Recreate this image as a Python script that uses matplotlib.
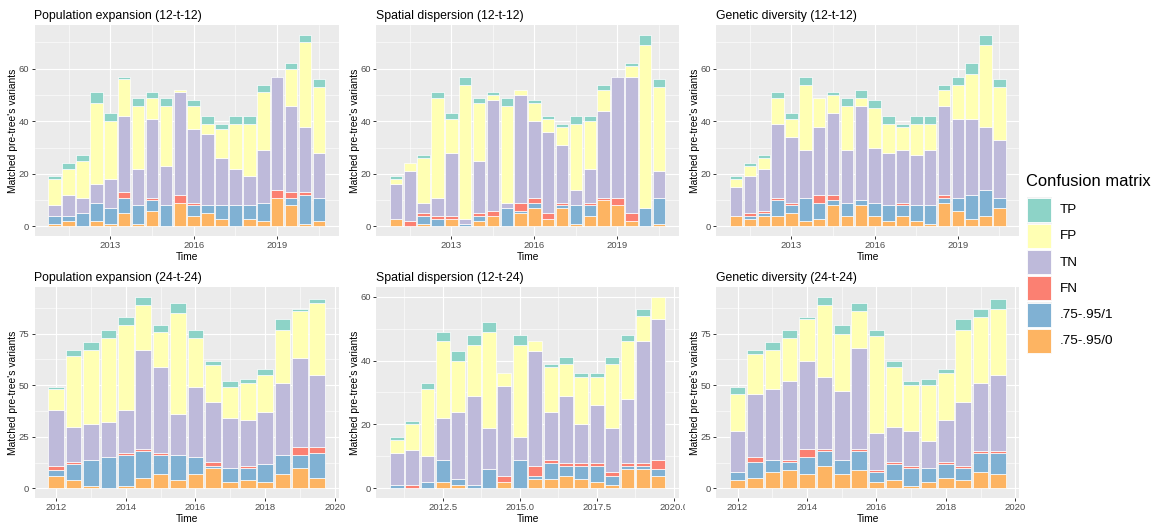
import matplotlib
matplotlib.use("Agg")
import matplotlib.pyplot as plt
from matplotlib.patches import Rectangle
from matplotlib.transforms import Bbox, TransformedBbox
import numpy as np

plt.rcParams['font.family'] = ['Liberation Sans', 'DejaVu Sans']

W, H = 1161, 527

categories = ["TP", "FP", "TN", "FN", ".75-.95/1", ".75-.95/0"]
colors = ["#8DD3C7", "#FFFFB3", "#BEBADA", "#FB8072", "#80B1D3", "#FDB462"]

# half-year time bins (decimal years)
dates_12 = [2011.0, 2011.5, 2012.0, 2012.5, 2013.0, 2013.5, 2014.0, 2014.5, 2015.0, 2015.5,
            2016.0, 2016.5, 2017.0, 2017.5, 2018.0, 2018.5, 2019.0, 2019.5, 2020.0, 2020.5]
dates_24 = [2012.0, 2012.5, 2013.0, 2013.5, 2014.0, 2014.5, 2015.0, 2015.5,
            2016.0, 2016.5, 2017.0, 2017.5, 2018.0, 2018.5, 2019.0, 2019.5]
dates_sd24 = [2011.0, 2011.5, 2012.0, 2012.5, 2013.0, 2013.5, 2014.0, 2014.5, 2015.0,
              2015.5, 2016.0, 2016.5, 2017.0, 2017.5, 2018.0, 2018.5, 2019.0, 2019.5]

# Population expansion (12-t-12)
pe12_o = [1, 2, 0, 2, 1, 5, 1, 6, 0, 9, 4, 5, 3, 0, 3, 2, 11, 8, 1, 2]
pe12_b = [3, 2, 5, 7, 6, 6, 7, 4, 8, 0, 4, 3, 5, 8, 5, 7, 0, 3, 11, 9]
pe12_fn = [0, 0, 0, 0, 0, 2, 0, 1, 0, 3, 1, 0, 0, 0, 0, 0, 3, 2, 1, 0]
pe12_tn = [4, 8, 6, 7, 11, 29, 14, 30, 15, 39, 28, 27, 18, 14, 11, 20, 43, 33, 25, 17]
pe12_fp = [10, 10, 14, 31, 22, 14, 24, 8, 23, 1, 9, 4, 11, 17, 20, 22, 0, 14, 32, 25]
pe12_tp = [1, 2, 2, 4, 3, 1, 3, 2, 3, 0, 2, 3, 2, 3, 3, 3, 0, 2, 3, 3]

# Spatial dispersion (12-t-12)
sd12_o = [3, 0, 1, 0, 3, 0, 2, 4, 0, 5, 7, 3, 7, 1, 4, 10, 8, 2, 0, 1]
sd12_b = [0, 0, 3, 3, 0, 1, 2, 0, 7, 1, 2, 0, 1, 7, 4, 0, 0, 0, 7, 10]
sd12_fn = [0, 2, 1, 1, 1, 0, 1, 2, 0, 3, 2, 2, 1, 0, 1, 1, 3, 3, 0, 0]
sd12_tn = [13, 19, 4, 7, 24, 2, 20, 42, 2, 41, 29, 31, 22, 6, 13, 33, 46, 52, 0, 10]
sd12_fp = [2, 3, 17, 38, 13, 51, 22, 2, 37, 2, 7, 5, 7, 25, 18, 8, 0, 4, 62, 32]
sd12_tp = [1, 0, 1, 2, 2, 3, 2, 1, 3, 0, 1, 1, 1, 3, 2, 2, 0, 1, 4, 3]

# Genetic diversity (12-t-12)
gd12_o = [4, 3, 4, 4, 5, 2, 3, 8, 4, 8, 4, 2, 4, 2, 1, 9, 6, 3, 4, 7]
gd12_b = [0, 1, 1, 6, 3, 9, 6, 2, 5, 2, 5, 6, 4, 6, 7, 2, 5, 9, 10, 4]
gd12_fn = [0, 1, 1, 1, 1, 0, 3, 2, 0, 0, 0, 0, 1, 0, 0, 1, 0, 0, 0, 0]
gd12_tn = [11, 14, 16, 28, 25, 18, 26, 31, 20, 36, 21, 20, 20, 19, 21, 34, 30, 29, 24, 22]
gd12_fp = [3, 4, 4, 10, 7, 25, 11, 7, 17, 3, 15, 11, 9, 12, 10, 6, 13, 17, 31, 20]
gd12_tp = [1, 1, 1, 2, 2, 3, 0, 1, 3, 3, 3, 3, 1, 3, 3, 2, 3, 4, 4, 3]

# Population expansion (24-t-24)
pe24_o = [6, 4, 1, 0, 1, 5, 7, 4, 7, 10, 3, 4, 3, 7, 10, 5]
pe24_b = [3, 8, 13, 15, 15, 13, 9, 12, 8, 1, 7, 6, 9, 9, 6, 12]
pe24_fn = [2, 1, 0, 0, 1, 1, 1, 0, 0, 2, 0, 1, 0, 0, 4, 3]
pe24_tn = [27, 17, 17, 17, 21, 48, 42, 20, 34, 29, 24, 22, 25, 35, 43, 35]
pe24_fp = [10, 34, 36, 41, 41, 22, 17, 49, 24, 18, 15, 18, 18, 26, 23, 35]
pe24_tp = [1, 3, 4, 4, 4, 4, 3, 5, 4, 2, 3, 2, 3, 5, 1, 2]

# Spatial dispersion (12-t-24)
sd24_o = [0, 0, 0, 2, 1, 0, 0, 2, 0, 3, 3, 4, 3, 2, 1, 6, 6, 4]
sd24_b = [1, 0, 2, 7, 2, 1, 6, 0, 9, 1, 5, 3, 4, 5, 3, 1, 1, 2]
sd24_fn = [0, 1, 0, 0, 0, 0, 0, 2, 0, 3, 1, 1, 1, 1, 1, 1, 1, 3]
sd24_tn = [10, 11, 8, 13, 21, 28, 13, 28, 7, 36, 15, 21, 12, 18, 14, 20, 38, 44]
sd24_fp = [4, 8, 21, 24, 16, 16, 30, 4, 29, 3, 14, 10, 15, 9, 20, 18, 8, 7]
sd24_tp = [1, 1, 2, 3, 3, 3, 3, 0, 3, 0, 1, 2, 1, 1, 2, 2, 2, 0]

# Genetic diversity (24-t-24)
gd24_o = [4, 5, 8, 9, 7, 11, 7, 9, 3, 4, 1, 3, 5, 4, 8, 7]
gd24_b = [4, 8, 6, 4, 8, 7, 7, 9, 5, 8, 9, 7, 7, 6, 9, 10]
gd24_fn = [0, 2, 0, 1, 4, 1, 0, 1, 1, 1, 1, 0, 1, 1, 1, 1]
gd24_tn = [20, 31, 34, 38, 43, 35, 33, 49, 18, 17, 17, 13, 20, 31, 33, 37]
gd24_fp = [18, 19, 19, 21, 20, 35, 28, 18, 47, 29, 22, 27, 23, 35, 32, 32]
gd24_tp = [3, 2, 4, 4, 1, 4, 4, 4, 3, 3, 2, 3, 2, 5, 4, 5]

fig = plt.figure(figsize=(W / 100, H / 100), dpi=100)


def px_axes(x0, y0, x1, y1):
    return fig.add_axes([x0 / W, 1 - y1 / H, (x1 - x0) / W, (y1 - y0) / H])


def panel(box, title, dates, layers, xmaj, xlabels, xmin, ymaj, ymin):
    ax = px_axes(*box)
    ax.set_facecolor('#EBEBEB')
    dates = np.asarray(dates)
    bottom = np.zeros(len(dates))
    # layers come bottom-up: .75-.95/0, .75-.95/1, FN, TN, FP, TP
    for vals, col in zip(layers, colors[::-1]):
        vals = np.asarray(vals, float)
        ax.bar(dates, vals, width=0.45, bottom=bottom, color=col,
               edgecolor='white', linewidth=np.where(vals > 0, 0.5, 0), zorder=3)
        bottom += vals
    lo, hi = dates.min() - 0.225, dates.max() + 0.225
    ax.set_xlim(lo - 0.05 * (hi - lo), hi + 0.05 * (hi - lo))
    top = bottom.max()
    ax.set_ylim(-0.05 * top, 1.05 * top)
    ax.set_xticks(xmaj)
    ax.set_xticklabels(xlabels)
    ax.set_xticks(xmin, minor=True)
    ax.set_yticks(ymaj)
    ax.set_yticks(ymin, minor=True)
    ax.set_axisbelow(True)
    ax.grid(which='major', color='white', linewidth=0.8)
    ax.grid(which='minor', color='white', linewidth=0.4)
    for s in ax.spines.values():
        s.set_visible(False)
    ax.tick_params(which='major', length=2.2, width=0.7, color='#333333',
                   labelcolor='#4D4D4D', labelsize=6.8, pad=1.5)
    ax.tick_params(which='minor', length=0)
    ax.set_title(title, loc='left', fontsize=8.8, pad=4.5)
    ax.set_xlabel('Time', fontsize=7.4, labelpad=1)
    ax.set_ylabel("Matched pre-tree's variants", fontsize=7.4, labelpad=0.5)
    return ax


top_row = (25, 236)
bot_row = (287, 498)
cols = [(34.5, 339), (376, 679), (716, 1019.5)]

yr_12 = [2013, 2016, 2019]
yr_12_minor = [2011.5, 2014.5, 2017.5, 2020.5]
y_12 = [0, 20, 40, 60]
y_12_minor = [10, 30, 50, 70]

panel((cols[0][0], top_row[0], cols[0][1], top_row[1]), "Population expansion (12-t-12)", dates_12,
      [pe12_o, pe12_b, pe12_fn, pe12_tn, pe12_fp, pe12_tp],
      yr_12, [str(y) for y in yr_12], yr_12_minor, y_12, y_12_minor)
panel((cols[1][0], top_row[0], cols[1][1], top_row[1]), "Spatial dispersion (12-t-12)", dates_12,
      [sd12_o, sd12_b, sd12_fn, sd12_tn, sd12_fp, sd12_tp],
      yr_12, [str(y) for y in yr_12], yr_12_minor, y_12, y_12_minor)
panel((cols[2][0], top_row[0], cols[2][1], top_row[1]), "Genetic diversity (12-t-12)", dates_12,
      [gd12_o, gd12_b, gd12_fn, gd12_tn, gd12_fp, gd12_tp],
      yr_12, [str(y) for y in yr_12], yr_12_minor, y_12, y_12_minor)

yr_24 = [2012, 2014, 2016, 2018, 2020]
yr_24_minor = [2013, 2015, 2017, 2019]
y_24 = [0, 25, 50, 75]
y_24_minor = [12.5, 37.5, 62.5, 87.5]

panel((cols[0][0], bot_row[0], cols[0][1], bot_row[1]), "Population expansion (24-t-24)", dates_24,
      [pe24_o, pe24_b, pe24_fn, pe24_tn, pe24_fp, pe24_tp],
      yr_24, [str(y) for y in yr_24], yr_24_minor, y_24, y_24_minor)

yr_sd = [2012.5, 2015.0, 2017.5, 2020.0]
ax_sd = panel((cols[1][0], bot_row[0], cols[1][1], bot_row[1]), "Spatial dispersion (12-t-24)", dates_sd24,
              [sd24_o, sd24_b, sd24_fn, sd24_tn, sd24_fp, sd24_tp],
              yr_sd, ["%.1f" % y for y in yr_sd], [2011.25, 2013.75, 2016.25, 2018.75],
              [0, 20, 40, 60], [10, 30, 50])
# the last date label gets cut where the next plot starts
clip = TransformedBbox(Bbox([[0, 0], [685 / W, 1]]), fig.transFigure)
for lab in ax_sd.get_xticklabels():
    lab.set_clip_on(True)
    lab.set_clip_box(clip)

panel((cols[2][0], bot_row[0], cols[2][1], bot_row[1]), "Genetic diversity (24-t-24)", dates_24,
      [gd24_o, gd24_b, gd24_fn, gd24_tn, gd24_fp, gd24_tp],
      yr_24, [str(y) for y in yr_24], yr_24_minor, y_24, y_24_minor)

# legend, laid out in pixel units
lax = fig.add_axes([0, 0, 1, 1])
lax.set_xlim(0, W)
lax.set_ylim(H, 0)
lax.axis('off')
lax.text(1026, 182, "Confusion matrix", fontsize=11.9, va='center', ha='left')
for i, (name, col) in enumerate(zip(categories, colors)):
    y0 = 197.5 + i * 26.3
    lax.add_patch(Rectangle((1026.5, y0 - 0.5), 25, 25, facecolor='#F2F2F2', edgecolor='none'))
    lax.add_patch(Rectangle((1027, y0), 24, 24, facecolor=col, edgecolor='white', linewidth=0.6))
    lax.text(1060, y0 + 12.5, name, fontsize=9.7, va='center', ha='left')

fig.savefig('out.png', dpi=100)
